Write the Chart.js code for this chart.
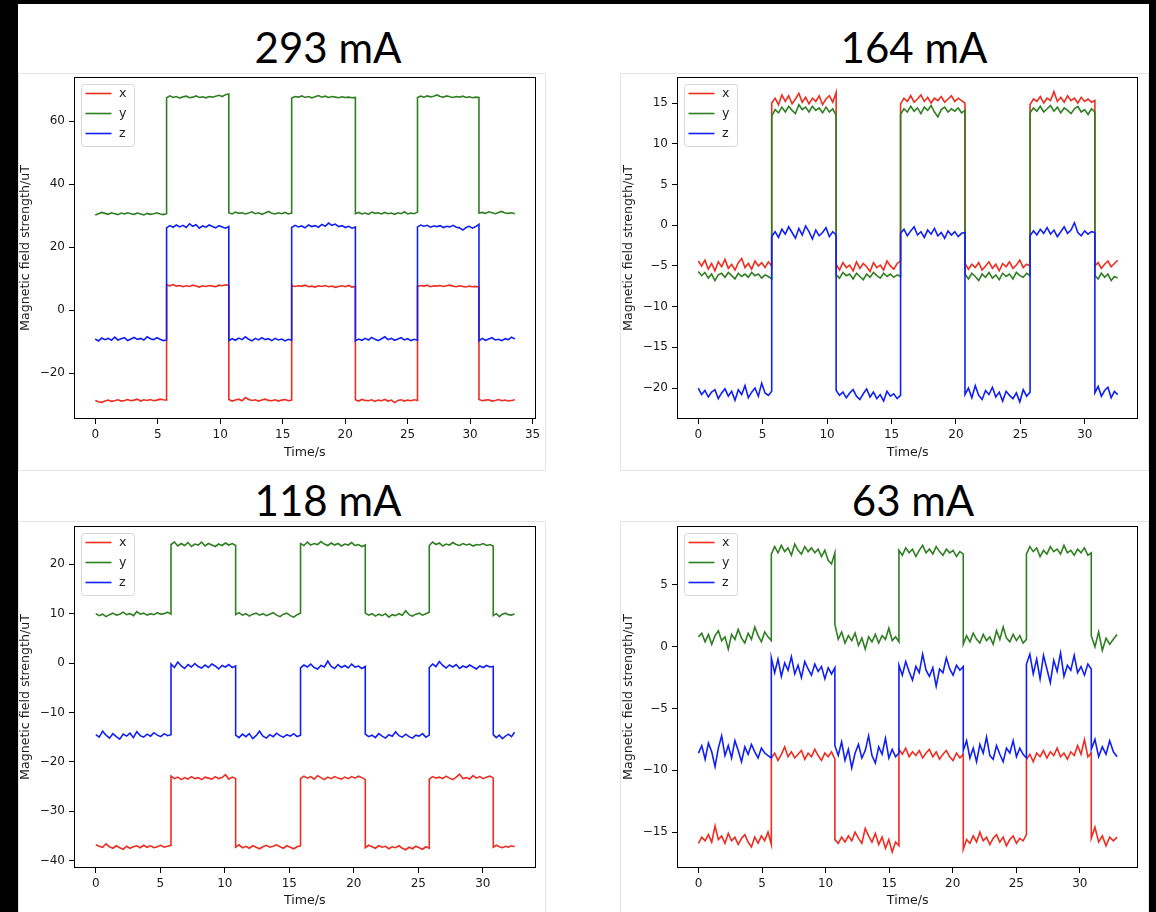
<!DOCTYPE html>
<html>
<head>
<meta charset="utf-8">
<script src="https://cdn.jsdelivr.net/npm/chart.js@4.4.0/dist/chart.umd.min.js"></script>
<style>
  html, body { margin: 0; padding: 0; background: #000; }
  #page { position: relative; width: 1156px; height: 912px; overflow: hidden; background: #000; }
  #paper { position: absolute; left: 18px; top: 4px; width: 1131px; height: 908px; background: #fff; }
  .frame { position: absolute; border: 1px solid #e4e4e4; box-sizing: border-box; }
  .title { position: absolute; width: 300px; text-align: center; font-family: Lato, sans-serif; font-size: 42px; line-height: 42px; color: #000; }
  canvas { position: absolute; }
</style>
</head>
<body>
<div id="page">
  <div id="paper"></div>
</div>
<script>
console.log("charts initializing.");

// Each series is split into plateaus (between switching edges)
const seriesLabels = ['x', 'y', 'z'];
const seriesColors = ['#ec2d20', '#2f7f22', '#1020f5'];

// ---- 293 mA ----
const edges293 = [0, 5.71, 10.69, 15.72, 20.82, 25.79, 30.71, 33.58];
const x293 = [
  [-28.7,-29.1,-29.3,-28.9,-28.6,-29.0,-28.8,-28.5,-28.9,-28.7,-28.4,-28.8,-28.6,-28.3,-28.9,-28.5,-28.7,-28.4,-28.8,-28.6,-28.3,-28.5,-28.6],
  [8.0,7.7,8.1,7.6,7.8,7.4,7.7,7.5,7.9,7.6,7.3,7.7,7.5,7.8,7.6,7.4,7.9,7.7,8.0,7.8],
  [-28.4,-28.9,-28.6,-28.3,-28.8,-27.8,-28.4,-28.7,-28.5,-28.9,-28.6,-28.3,-28.7,-28.8,-28.5,-28.9,-28.6,-28.4,-28.8,-28.6],
  [7.8,7.5,7.7,7.6,7.9,7.4,7.6,7.3,7.7,7.5,7.8,7.4,7.6,7.2,7.5,7.7,7.4,7.8,7.3,7.5],
  [-28.5,-28.9,-28.4,-28.7,-28.8,-28.5,-29.0,-28.6,-28.8,-28.4,-28.9,-28.6,-29.4,-28.7,-28.5,-28.9,-28.6,-28.8,-28.5,-28.7],
  [7.5,7.8,7.6,7.9,7.4,7.7,7.6,7.8,7.5,7.7,7.9,7.6,7.4,7.7,7.5,7.3,7.6,7.4,7.5,7.3],
  [-28.4,-28.8,-28.6,-28.5,-28.9,-28.7,-28.4,-28.8,-28.6,-28.9,-28.7,-28.5]
];
const y293 = [
  [30.2,30.6,31.0,30.7,30.4,30.9,30.6,30.3,30.8,30.5,30.9,30.6,30.4,30.8,30.5,30.2,30.7,30.4,30.6,30.9,30.5,30.3,30.6],
  [67.4,68.0,67.5,67.8,67.3,67.7,67.9,67.4,67.6,68.0,67.5,67.7,67.4,67.8,67.6,67.9,68.2,67.8,68.4,68.6],
  [30.9,30.5,31.1,30.7,30.9,30.5,30.8,31.2,30.6,30.9,30.4,30.8,31.3,30.7,30.5,30.9,30.6,31.0,30.5,30.8],
  [67.3,67.8,67.6,68.0,67.5,67.8,67.4,67.7,68.1,67.6,67.9,67.5,67.8,67.6,67.4,67.7,67.5,67.6,67.4,67.5],
  [30.6,31.0,30.5,30.8,30.4,31.1,30.7,30.9,30.5,31.0,30.6,30.8,30.4,30.9,30.6,31.2,30.5,30.8,30.6,31.1],
  [67.5,67.9,67.6,68.0,67.7,67.9,68.3,67.8,67.6,68.0,67.7,67.5,67.8,67.6,67.9,67.5,67.7,67.4,67.6,67.5],
  [30.8,31.0,30.7,31.2,30.9,30.6,31.0,31.3,30.8,30.7,30.9,30.6]
];
const z293 = [
  [-9.2,-9.8,-8.9,-9.4,-9.0,-9.6,-8.6,-9.5,-9.1,-8.8,-9.7,-9.2,-8.7,-9.3,-9.0,-9.5,-8.5,-9.1,-9.4,-8.8,-9.3,-9.7,-9.5],
  [26.1,26.8,26.3,27.0,26.4,26.9,26.2,27.4,26.6,27.1,26.0,26.7,26.3,27.0,26.5,26.1,26.8,26.4,26.0,26.5],
  [-9.7,-9.1,-9.6,-8.9,-9.4,-8.5,-9.3,-9.8,-9.0,-9.5,-8.8,-9.4,-9.1,-9.7,-9.0,-9.5,-9.2,-9.8,-9.3,-9.6],
  [26.2,26.9,26.4,26.7,26.1,27.0,26.5,26.8,26.3,27.2,26.6,27.6,26.9,27.3,26.5,26.8,26.2,26.6,26.0,26.4],
  [-9.8,-9.2,-9.6,-9.0,-9.5,-8.7,-9.3,-9.7,-9.1,-8.5,-9.4,-9.0,-9.6,-9.2,-8.8,-9.5,-9.1,-9.7,-9.3,-9.6],
  [26.4,27.0,26.6,26.9,26.3,26.7,26.5,26.8,26.2,26.6,26.4,26.9,26.3,26.1,25.4,26.2,26.6,26.0,26.5,27.2],
  [-9.8,-9.0,-9.6,-9.2,-8.8,-9.5,-9.3,-9.7,-9.1,-9.4,-8.6,-9.2]
];
const xTicks293 = [0, 5, 10, 15, 20, 25, 30, 35];
const yTicks293 = [-20, 0, 20, 40, 60];

// ---- 164 mA ----
const edges164 = [0, 5.7, 10.7, 15.7, 20.7, 25.75, 30.78, 32.55];
const x164 = [
  [-4.4,-5.0,-4.3,-5.4,-4.7,-5.6,-4.5,-5.1,-4.2,-5.3,-4.8,-5.5,-4.6,-4.1,-5.2,-4.7,-5.4,-4.4,-5.0,-4.6,-5.2,-4.5,-5.0],
  [15.0,15.6,14.8,16.0,15.2,15.9,14.9,15.5,16.2,15.1,15.7,14.9,15.6,15.2,15.9,14.8,15.5,15.9,15.1,16.3],
  [-4.8,-5.5,-4.6,-5.2,-4.9,-5.6,-4.5,-5.3,-4.7,-5.1,-5.7,-4.6,-5.2,-4.9,-5.5,-4.4,-5.0,-5.4,-4.7,-4.4],
  [14.9,15.6,15.2,15.9,15.1,15.5,16.0,15.2,15.7,15.0,15.6,15.3,15.8,15.1,15.5,15.9,15.2,15.6,15.3,15.0],
  [-4.7,-5.4,-4.8,-5.2,-4.6,-5.5,-5.0,-4.5,-5.3,-4.8,-5.6,-4.7,-5.1,-4.5,-5.3,-4.9,-4.3,-5.2,-4.8,-5.0],
  [14.8,15.5,15.2,15.8,15.0,15.6,15.3,16.4,15.2,15.7,15.1,15.9,15.3,15.6,15.0,15.7,15.2,15.5,15.1,15.3],
  [-5.0,-4.6,-5.3,-4.8,-4.4,-5.1,-4.7,-4.3]
];
const y164 = [
  [-5.7,-6.2,-5.8,-6.5,-6.0,-6.8,-6.1,-5.9,-6.4,-5.8,-6.2,-6.6,-5.9,-6.3,-6.0,-6.4,-5.8,-6.2,-6.0,-6.5,-6.1,-6.3,-6.6],
  [13.4,14.2,13.8,14.5,13.9,14.6,14.1,13.7,14.8,14.2,14.5,13.9,14.6,14.1,14.4,13.8,14.5,13.9,14.3,13.5],
  [-6.1,-6.5,-5.8,-6.2,-6.0,-6.6,-5.9,-6.3,-6.7,-6.0,-6.4,-5.8,-6.2,-6.5,-5.9,-6.3,-6.0,-6.4,-6.1,-6.3],
  [13.6,14.3,13.9,14.6,14.0,14.4,13.7,14.5,14.1,14.7,13.9,13.3,14.2,14.5,13.9,14.3,14.0,14.4,13.8,14.1],
  [-6.0,-6.6,-5.9,-6.3,-6.8,-6.0,-6.4,-5.8,-6.5,-6.1,-6.7,-5.9,-6.3,-6.0,-6.6,-5.8,-6.2,-6.4,-5.9,-6.2],
  [13.8,14.4,14.0,14.6,13.9,14.3,14.7,14.0,14.5,13.8,14.4,14.1,13.7,14.3,14.6,13.9,14.2,13.6,14.3,13.9],
  [-6.2,-6.6,-5.9,-6.4,-6.0,-6.8,-6.3,-6.5]
];
const z164 = [
  [-20.0,-20.8,-20.3,-21.1,-20.5,-20.2,-21.3,-20.6,-20.1,-21.0,-20.4,-21.5,-20.2,-20.8,-19.7,-21.2,-20.5,-20.0,-21.0,-19.4,-20.6,-20.9,-20.4],
  [-1.4,-0.8,-1.5,-0.5,-1.1,-0.2,-0.9,-1.6,-0.4,-1.2,-0.1,-0.8,-1.7,-0.6,-1.3,-0.9,-0.3,-1.4,-0.8,-1.2],
  [-20.3,-20.9,-20.5,-21.2,-20.6,-20.2,-21.0,-21.4,-20.7,-20.1,-21.1,-20.5,-21.3,-20.8,-21.6,-20.4,-21.0,-20.7,-21.3,-20.9],
  [-1.0,-0.5,-1.3,-0.7,-0.2,-1.2,-0.8,-1.5,-0.6,-1.1,-0.4,-1.3,-0.9,-1.6,-0.7,-1.2,-0.8,-1.4,-1.0,-0.9],
  [-20.8,-20.0,-21.2,-19.7,-20.9,-21.4,-20.3,-20.8,-19.9,-21.1,-20.5,-21.6,-20.4,-20.9,-21.3,-20.6,-21.7,-20.2,-21.0,-20.5],
  [-1.3,-0.7,-1.2,-0.5,-1.0,-0.3,-1.1,-0.6,-1.4,-0.8,-0.2,-1.0,-0.6,0.3,-0.9,-1.3,-0.7,-1.1,-0.8,-0.9],
  [-20.6,-19.8,-21.0,-20.3,-19.9,-21.2,-20.4,-20.8]
];
const xTicks164 = [0, 5, 10, 15, 20, 25, 30];
const yTicks164 = [-20, -15, -10, -5, 0, 5, 10, 15];

// ---- 118 mA ----
const edges118 = [0, 5.83, 10.84, 15.87, 20.89, 25.85, 30.81, 32.46];
const x118 = [
  [-36.8,-37.1,-37.3,-36.6,-37.2,-37.5,-37.0,-37.4,-37.7,-37.1,-37.5,-37.2,-37.0,-37.4,-36.9,-37.3,-37.0,-37.4,-37.2,-36.9,-37.3,-37.1,-36.9],
  [-22.9,-23.4,-23.1,-23.6,-23.2,-23.5,-23.0,-23.4,-23.2,-23.6,-23.1,-23.3,-23.5,-23.0,-23.4,-23.2,-22.6,-23.5,-23.1,-23.4],
  [-37.3,-36.8,-37.4,-37.1,-37.5,-37.0,-37.3,-37.6,-37.2,-36.9,-37.3,-37.1,-36.8,-37.2,-37.5,-37.0,-37.3,-37.6,-37.2,-37.0],
  [-23.4,-22.9,-23.3,-23.0,-23.5,-22.8,-23.2,-23.6,-23.1,-23.4,-23.0,-23.3,-23.5,-23.1,-23.4,-23.0,-23.3,-22.9,-23.2,-23.6],
  [-37.4,-36.9,-37.2,-37.5,-37.0,-37.3,-37.1,-37.6,-37.2,-37.4,-37.0,-37.5,-37.8,-37.3,-37.6,-37.1,-37.4,-37.7,-37.2,-37.5],
  [-23.5,-23.0,-23.3,-23.1,-23.4,-22.9,-23.3,-23.6,-23.1,-22.5,-23.4,-23.2,-23.5,-22.8,-23.3,-23.0,-23.4,-23.1,-22.9,-23.3],
  [-37.3,-36.9,-37.2,-37.4,-37.1,-37.3,-37.0,-37.2]
];
const y118 = [
  [10.0,9.6,9.9,9.4,9.8,10.1,9.7,9.9,10.3,9.8,10.0,9.6,10.4,9.9,10.1,9.7,10.0,9.8,10.2,9.9,10.0,10.3,9.9],
  [24.0,24.5,23.7,24.2,23.8,24.4,23.6,24.1,23.9,24.5,23.7,24.2,23.9,23.6,24.1,23.8,24.3,23.9,24.2,23.8],
  [9.8,10.2,9.7,10.0,9.5,9.9,10.1,9.7,10.0,9.6,9.9,10.2,9.7,9.4,9.9,10.1,9.6,9.3,9.8,10.1],
  [24.2,23.8,24.5,23.9,24.2,24.0,24.6,24.1,23.8,24.3,23.9,24.2,23.7,24.1,23.9,24.4,23.8,24.0,23.6,23.9],
  [10.1,9.7,10.0,9.5,9.9,9.6,10.0,9.3,9.8,9.6,10.0,9.7,10.6,9.8,9.5,9.9,10.1,9.7,10.0,10.3],
  [23.8,24.5,24.0,24.3,23.7,24.1,23.9,24.4,24.0,23.8,24.2,23.9,24.1,23.7,24.0,23.9,24.2,23.8,24.0,23.7],
  [9.6,10.0,9.4,9.9,10.1,9.8,9.7,10.0]
];
const z118 = [
  [-14.5,-15.0,-13.8,-14.6,-15.2,-14.3,-14.9,-15.4,-14.4,-14.8,-14.2,-15.1,-13.9,-14.7,-15.0,-14.4,-14.8,-14.1,-14.6,-14.9,-14.3,-14.7,-14.5],
  [-0.2,-0.9,0.2,-0.6,-1.1,-0.3,-0.8,-0.1,-0.7,-1.0,-0.4,-0.9,-0.2,-0.6,-1.2,-0.5,-0.8,-0.3,-0.9,-0.6],
  [-14.6,-15.1,-14.4,-14.9,-14.3,-15.3,-14.7,-13.8,-14.8,-15.2,-14.5,-14.9,-14.2,-14.7,-15.0,-14.5,-14.8,-14.3,-14.9,-14.6],
  [-1.0,-0.4,-0.8,-0.2,-0.9,-1.2,-0.5,-0.8,0.4,-0.7,-1.1,-0.3,-0.9,-0.5,-1.0,-0.2,-0.8,-0.6,-1.1,-0.7],
  [-14.4,-14.9,-14.6,-15.1,-14.3,-14.8,-15.2,-14.5,-14.8,-13.9,-14.7,-15.0,-14.4,-14.9,-15.2,-14.6,-14.8,-14.3,-15.0,-14.6],
  [-0.9,-0.2,-0.7,0.3,-0.5,-1.0,-0.4,-0.8,-0.3,-1.1,-0.6,-0.9,-0.4,-0.8,-1.2,-0.6,-0.9,-0.5,-0.8,-0.7],
  [-14.5,-15.1,-14.6,-15.3,-14.8,-14.4,-14.9,-14.0]
];
const xTicks118 = [0, 5, 10, 15, 20, 25, 30];
const yTicks118 = [-40, -30, -20, -10, 0, 10, 20];

// ---- 63 mA ----
const edges63 = [0, 5.73, 10.73, 15.77, 20.83, 25.8, 30.9, 32.93];
const x63 = [
  [-15.9,-15.4,-15.7,-15.2,-15.8,-14.5,-15.6,-15.3,-15.9,-15.1,-15.7,-15.4,-16.0,-15.5,-15.2,-15.8,-16.2,-15.4,-15.9,-15.3,-15.7,-15.0,-16.0],
  [-9.0,-8.6,-9.2,-8.7,-8.1,-8.9,-8.5,-9.0,-8.7,-8.4,-9.1,-8.6,-8.9,-8.3,-8.8,-9.2,-8.6,-8.9,-8.5,-9.1],
  [-15.6,-15.9,-15.4,-15.8,-15.3,-15.7,-15.0,-15.5,-15.9,-14.7,-15.3,-15.8,-15.1,-16.0,-15.4,-16.3,-15.6,-16.6,-15.8,-16.1],
  [-8.3,-8.7,-8.2,-8.9,-8.5,-8.8,-8.4,-9.0,-8.6,-8.3,-8.9,-8.5,-9.1,-8.7,-8.4,-8.9,-9.2,-8.6,-9.0,-8.7],
  [-16.4,-15.6,-15.9,-15.3,-15.8,-15.0,-15.7,-15.4,-16.0,-15.5,-15.2,-15.8,-15.4,-16.1,-15.6,-15.3,-15.9,-15.5,-15.7,-15.2],
  [-9.1,-8.7,-9.3,-8.6,-8.9,-8.4,-9.0,-8.5,-8.8,-8.2,-8.9,-8.6,-9.1,-8.5,-8.8,-8.0,-8.7,-7.5,-8.9,-8.6],
  [-15.5,-14.6,-15.8,-15.3,-16.1,-15.4,-15.7,-15.4]
];
const y63 = [
  [0.8,1.1,0.4,1.0,0.2,0.9,1.3,0.5,0.8,-0.2,1.0,0.6,1.4,0.7,0.3,1.1,0.6,1.6,0.9,0.4,1.2,0.8,0.5],
  [7.5,8.1,7.6,8.2,7.7,8.0,7.4,8.3,7.8,7.5,8.1,7.7,8.0,7.6,7.9,7.3,7.8,7.0,6.7,7.6],
  [1.8,0.6,1.2,0.3,0.9,0.5,1.1,0.1,0.7,-0.2,0.8,0.4,1.0,0.3,0.9,0.6,1.5,0.5,0.8,0.4],
  [7.8,7.4,8.0,7.6,7.9,7.3,7.8,8.2,7.6,7.9,7.5,8.1,7.7,7.4,7.9,7.6,7.8,7.3,7.7,7.5],
  [0.2,0.9,0.4,1.1,0.6,0.3,1.0,0.5,0.8,0.2,1.3,0.6,1.6,0.7,0.4,1.0,0.5,0.9,0.3,0.6],
  [7.5,8.1,7.7,8.0,7.3,7.8,7.5,8.1,7.7,7.9,7.5,8.2,7.6,7.8,7.4,7.9,7.6,8.0,7.4,7.6],
  [0.9,0.0,1.2,-0.3,0.7,0.2,0.6,1.0]
];
const z63 = [
  [-8.6,-8.0,-9.1,-7.8,-8.5,-9.7,-8.2,-7.2,-8.8,-8.0,-9.0,-7.6,-8.4,-9.3,-8.1,-8.7,-7.9,-8.5,-9.0,-8.2,-8.6,-8.8,-9.0],
  [-0.9,-2.1,-1.0,-2.4,-1.3,-1.9,-0.8,-2.2,-1.5,-2.5,-1.2,-1.8,-2.3,-1.4,-2.0,-1.6,-2.6,-1.7,-2.2,-1.7],
  [-8.0,-8.8,-7.7,-9.2,-8.3,-9.8,-8.6,-7.9,-9.0,-8.4,-7.2,-8.8,-9.4,-8.1,-8.7,-7.4,-9.0,-8.3,-8.9,-8.6],
  [-1.5,-2.3,-1.2,-2.0,-2.7,-1.6,-2.1,-0.6,-1.9,-2.4,-1.7,-3.2,-1.8,-2.1,-0.9,-1.8,-2.3,-1.5,-1.9,-1.6],
  [-8.4,-7.6,-9.0,-8.2,-9.3,-7.9,-8.6,-7.3,-8.8,-9.1,-8.0,-8.7,-9.3,-8.2,-8.6,-7.6,-8.9,-8.2,-8.7,-9.0],
  [-1.4,-0.6,-2.2,-1.0,-2.6,-0.7,-1.8,-2.9,-1.1,-2.0,-0.5,-2.4,-1.5,-1.9,-0.7,-2.1,-1.6,-2.3,-1.4,-1.8],
  [-8.3,-7.5,-8.9,-8.1,-8.7,-7.6,-8.5,-8.9]
];
const xTicks63 = [0, 5, 10, 15, 20, 25, 30];
const yTicks63 = [-15, -10, -5, 0, 5];

// layout of the four panels (pixels on the page)
const panels = [
  { title: '293 mA', titleX: 328, titleTop: 25.75, frame: [18, 73, 528, 396],
    area: { left: 56, top: 4, right: 10.3, bottom: 50 }, xTitlePad: 9.1, yTitlePad: 0.6,
    edges: edges293, data: [x293, y293, z293], xRange: [-1.7, 35.25], yRange: [-34.6, 74],
    xTicks: xTicks293, yTicks: yTicks293 },
  { title: '164 mA', titleX: 914, titleTop: 25.75, frame: [620, 73, 529, 396],
    area: { left: 57, top: 4, right: 10.7, bottom: 50 }, xTitlePad: 9.1, yTitlePad: 1.2,
    edges: edges164, data: [x164, y164, z164], xRange: [-1.65, 34.15], yRange: [-23.8, 18.2],
    xTicks: xTicks164, yTicks: yTicks164 },
  { title: '118 mA', titleX: 328, titleTop: 478.75, frame: [18, 521, 528, 391],
    area: { left: 56, top: 5, right: 10.3, bottom: 44 }, xTitlePad: 3.7, yTitlePad: 0.6,
    edges: edges118, data: [x118, y118, z118], xRange: [-1.69, 34.1], yRange: [-41.5, 27.75],
    xTicks: xTicks118, yTicks: yTicks118 },
  { title: '63 mA', titleX: 913, titleTop: 478.75, frame: [620, 521, 529, 391],
    area: { left: 57, top: 5, right: 10.7, bottom: 44 }, xTitlePad: 3.7, yTitlePad: 1.2,
    edges: edges63, data: [x63, y63, z63], xRange: [-1.69, 34.6], yRange: [-17.9, 9.77],
    xTicks: xTicks63, yTicks: yTicks63 }
];

// spread each plateau's samples evenly between its two edges
function toPoints(edges, plateaus) {
  const pts = [];
  plateaus.forEach((vals, j) => {
    const t0 = edges[j], t1 = edges[j + 1];
    vals.forEach((v, k) => pts.push({ x: t0 + (t1 - t0) * k / (vals.length - 1), y: v }));
  });
  return pts;
}

const minusSign = v => String(v).replace('-', '\u2212');

// black box round the plot plus a matplotlib-like legend in the upper left
const boxAndLegend = {
  id: 'boxAndLegend',
  afterDraw(chart) {
    const { ctx, chartArea: a } = chart;
    ctx.save();
    ctx.strokeStyle = '#000';
    ctx.lineWidth = 1;
    ctx.strokeRect(Math.round(a.left) + 0.5, Math.round(a.top) + 0.5,
      Math.round(a.right - a.left) - 1, Math.round(a.bottom - a.top) - 1);

    const bx = a.left + 7, by = a.top + 7;
    ctx.beginPath();
    ctx.roundRect(bx + 0.5, by + 0.5, 53, 62, 3);
    ctx.fillStyle = 'rgba(255,255,255,0.85)';
    ctx.fill();
    ctx.strokeStyle = '#d6d6d6';
    ctx.stroke();
    ctx.font = '12.6px "DejaVu Sans"';
    ctx.textBaseline = 'middle';
    chart.data.datasets.forEach((ds, i) => {
      const ly = by + 9.5 + i * 20;
      ctx.beginPath();
      ctx.moveTo(bx + 4.5, ly);
      ctx.lineTo(bx + 30.5, ly);
      ctx.strokeStyle = ds.borderColor;
      ctx.lineWidth = 1.6;
      ctx.stroke();
      ctx.fillStyle = '#222';
      ctx.fillText(ds.label, bx + 38, ly);
    });
    ctx.restore();
  }
};

const page = document.getElementById('page');

panels.forEach(p => {
  const [fx, fy, fw, fh] = p.frame;

  const frame = document.createElement('div');
  frame.className = 'frame';
  frame.style.cssText = `left:${fx}px;top:${fy}px;width:${fw}px;height:${fh + 2}px;`;
  page.appendChild(frame);

  const title = document.createElement('div');
  title.className = 'title';
  title.style.left = (p.titleX - 150) + 'px';
  title.style.top = p.titleTop + 'px';
  title.textContent = p.title;
  page.appendChild(title);

  const canvas = document.createElement('canvas');
  canvas.width = fw;
  canvas.height = fh;
  canvas.style.left = fx + 'px';
  canvas.style.top = fy + 'px';
  page.appendChild(canvas);

  const tickFont = { family: 'DejaVu Sans', size: 12 };
  const titleFont = { family: 'DejaVu Sans', size: 12.6 };
  const gridOpts = { drawOnChartArea: false, drawTicks: true, tickLength: 5, color: '#000', lineWidth: 1 };

  new Chart(canvas.getContext('2d'), {
    type: 'line',
    data: {
      datasets: p.data.map((plateaus, i) => ({
        label: seriesLabels[i],
        data: toPoints(p.edges, plateaus),
        borderColor: seriesColors[i],
        borderWidth: 1.6,
        pointRadius: 0,
        tension: 0,
        fill: false,
        order: 2 - i
      }))
    },
    options: {
      responsive: false,
      animation: false,
      events: [],
      layout: { padding: { left: 0, top: p.area.top, right: p.area.right, bottom: 0 } },
      plugins: { legend: { display: false }, tooltip: { enabled: false } },
      scales: {
        x: {
          type: 'linear',
          min: p.xRange[0],
          max: p.xRange[1],
          afterFit: s => { s.height = p.area.bottom; s.paddingLeft = 0; s.paddingRight = 0; },
          afterBuildTicks: s => { s.ticks = p.xTicks.map(v => ({ value: v })); },
          grid: gridOpts,
          border: { display: false },
          ticks: { font: tickFont, color: '#1a1a1a', padding: 4, maxRotation: 0, autoSkip: false,
                   callback: v => minusSign(v) },
          title: { display: true, text: 'Time/s', font: titleFont, color: '#1a1a1a',
                   padding: { top: 0, bottom: p.xTitlePad } }
        },
        y: {
          type: 'linear',
          min: p.yRange[0],
          max: p.yRange[1],
          afterFit: s => { s.width = p.area.left; s.paddingTop = 0; s.paddingBottom = 0; },
          afterBuildTicks: s => { s.ticks = p.yTicks.map(v => ({ value: v })); },
          grid: gridOpts,
          border: { display: false },
          ticks: { font: tickFont, color: '#1a1a1a', padding: 4, autoSkip: false,
                   callback: v => minusSign(v) },
          title: { display: true, text: 'Magnetic field strength/uT', font: titleFont, color: '#1a1a1a',
                   padding: { top: p.yTitlePad, bottom: 0 } }
        }
      }
    },
    plugins: [boxAndLegend]
  });
});

console.log("charts loaded.");
</script>
</body>
</html>
